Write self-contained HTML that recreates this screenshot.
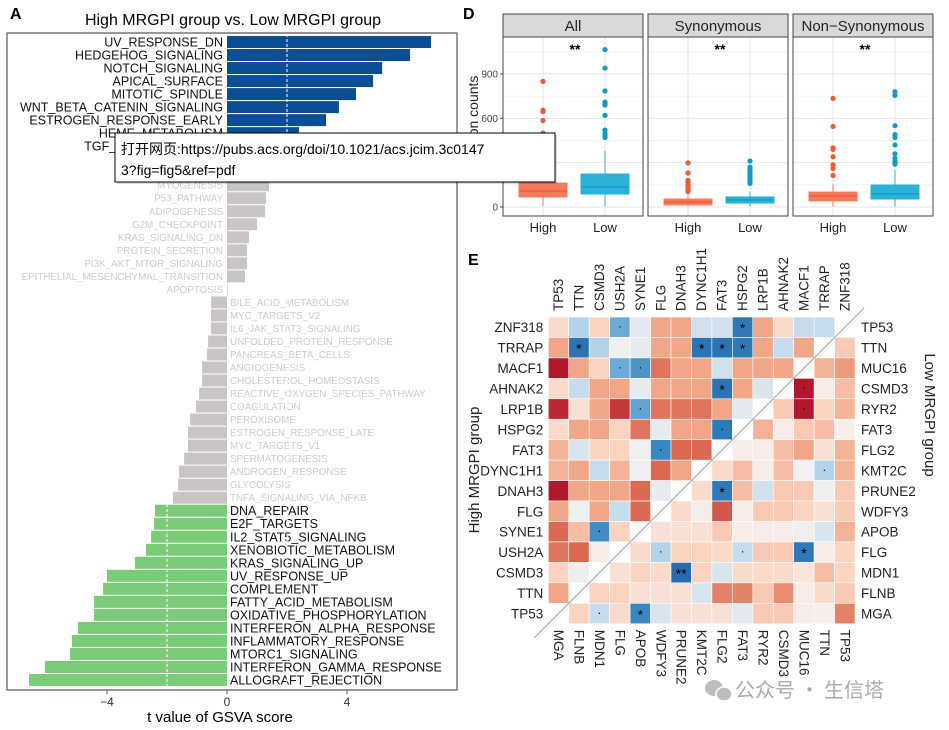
<!DOCTYPE html>
<html><head><meta charset="utf-8">
<style>
html,body{margin:0;padding:0;background:#fff;}
svg{display:block;font-family:"Liberation Sans","Noto Sans CJK SC",sans-serif;}
</style></head>
<body>
<svg id="fig" width="949" height="730" viewBox="0 0 949 730" xmlns="http://www.w3.org/2000/svg">
<rect width="949" height="730" fill="#fff"/>
<g id="panelA"></g>
<g id="panelD"></g>
<g id="panelE"></g>
<g>
  <ellipse cx="714" cy="688" rx="9" ry="8" fill="#bdbdbd"/>
  <ellipse cx="724" cy="694" rx="8" ry="7" fill="#bdbdbd" stroke="#fff" stroke-width="1.5"/>
  <text x="735" y="697" font-size="20" fill="#aaa" font-family="'Noto Sans CJK SC',sans-serif">公众号 · 生信塔</text>
</g>
<g>
  <rect x="117" y="135" width="440" height="49" fill="#000" opacity="0.15"/>
  <rect x="115" y="133" width="440" height="49" fill="#fff" stroke="#000" stroke-width="1"/>
  <text x="121" y="154" font-size="14" fill="#000" font-family="'Liberation Sans','Noto Sans CJK SC',sans-serif">打开网页:https://pubs.acs.org/doi/10.1021/acs.jcim.3c0147</text>
  <text x="121" y="175" font-size="14" fill="#000">3?fig=fig5&amp;ref=pdf</text>
</g>
</svg>
<script>
const NS="http://www.w3.org/2000/svg";
function mk(parent,tag,attrs,txt){const e=document.createElementNS(NS,tag);for(const k in attrs)e.setAttribute(k,attrs[k]);if(txt!==undefined)e.textContent=txt;parent.appendChild(e);return e;}

/* ---------- Panel A data ---------- */
const pathways=["UV_RESPONSE_DN","HEDGEHOG_SIGNALING","NOTCH_SIGNALING","APICAL_SURFACE","MITOTIC_SPINDLE","WNT_BETA_CATENIN_SIGNALING","ESTROGEN_RESPONSE_EARLY","HEME_METABOLISM","TGF_BETA_SIGNALING","APICAL_JUNCTION","HYPOXIA","MYOGENESIS","P53_PATHWAY","ADIPOGENESIS","G2M_CHECKPOINT","KRAS_SIGNALING_DN","PROTEIN_SECRETION","PI3K_AKT_MTOR_SIGNALING","EPITHELIAL_MESENCHYMAL_TRANSITION","APOPTOSIS","BILE_ACID_METABOLISM","MYC_TARGETS_V2","IL6_JAK_STAT3_SIGNALING","UNFOLDED_PROTEIN_RESPONSE","PANCREAS_BETA_CELLS","ANGIOGENESIS","CHOLESTEROL_HOMEOSTASIS","REACTIVE_OXYGEN_SPECIES_PATHWAY","COAGULATION","PEROXISOME","ESTROGEN_RESPONSE_LATE","MYC_TARGETS_V1","SPERMATOGENESIS","ANDROGEN_RESPONSE","GLYCOLYSIS","TNFA_SIGNALING_VIA_NFKB","DNA_REPAIR","E2F_TARGETS","IL2_STAT5_SIGNALING","XENOBIOTIC_METABOLISM","KRAS_SIGNALING_UP","UV_RESPONSE_UP","COMPLEMENT","FATTY_ACID_METABOLISM","OXIDATIVE_PHOSPHORYLATION","INTERFERON_ALPHA_RESPONSE","INFLAMMATORY_RESPONSE","MTORC1_SIGNALING","INTERFERON_GAMMA_RESPONSE","ALLOGRAFT_REJECTION"];
const tValues=[6.8,6.1,5.17,4.87,4.3,3.73,3.3,2.4,2.1,1.9,1.6,1.4,1.3,1.27,1.0,0.73,0.67,0.67,0.6,0.02,-0.53,-0.53,-0.53,-0.63,-0.67,-0.83,-0.83,-0.93,-1.03,-1.23,-1.3,-1.3,-1.43,-1.6,-1.63,-1.8,-2.4,-2.43,-2.53,-2.7,-3.07,-4.0,-4.13,-4.43,-4.43,-4.97,-5.17,-5.23,-6.07,-6.6];
const xTicksA=[-4,0,4];
const thresholdA=2;

(function(){
 const g=document.getElementById('panelA');
 const x=v=>227+v*30, y0=42, step=13.02;
 const t=mk(g,'text',{x:10,y:19,'font-size':16,'font-weight':'bold'},'A');
 
 const ti=mk(g,'text',{x:233,y:25,'font-size':16,'text-anchor':'middle'},'High MRGPI group vs. Low MRGPI group');
 
 pathways.forEach((p,i)=>{
  const v=tValues[i], yc=y0+i*step;
  const col=v>=thresholdA?'#0b4e93':(v<=-thresholdA?'#7ccb78':'#c9c5c5');
  const r=mk(g,'rect',{x:Math.min(x(0),x(v)),y:yc-6,width:Math.abs(x(v)-x(0)),height:12,fill:col});
  
  
  const sig=Math.abs(v)>=thresholdA;
  const lb=mk(g,'text',{x:v>=0?x(0)-4:x(0)+3,y:yc+(sig?4.5:3.5),'font-size':sig?12.5:9.8,'text-anchor':v>=0?'end':'start',fill:sig?'#111':'#cbcbcb'},p);
  
  
 });
 [thresholdA,-thresholdA].forEach(v=>{
  const l=mk(g,'line',{x1:x(v),x2:x(v),y1:34,y2:689,stroke:'#fff','stroke-width':1,'stroke-dasharray':'3,2'});
  
 });
 const fr=mk(g,'rect',{x:7,y:33,width:450,height:657,fill:'none',stroke:'#555','stroke-width':1.2});
 
 xTicksA.forEach(v=>{
  mk(g,'line',{x1:x(v),x2:x(v),y1:690,y2:694,stroke:'#555'});
  const tl=mk(g,'text',{x:x(v),y:706,'font-size':12,'text-anchor':'middle',fill:'#333'},v<0?'−'+Math.abs(v):String(v));
  
 });
 const xt=mk(g,'text',{x:220,y:722,'font-size':15,'text-anchor':'middle'},'t value of GSVA score');
 
})();

/* ---------- Panel D data ---------- */
const facets=["All","Synonymous","Non−Synonymous"];
const groups=["High","Low"];
// [min whisker, q1, median, q3, max whisker]
const boxHigh=[[5,68,108,162,300],[2,14,34,54,100],[3,41,74,101,155]];
const boxLow=[[3,88,135,223,380],[2,27,47,68,105],[3,54,88,149,250]];
const outHigh=[[850,655,645,585,500,470,440],[298,230,180,165,150,140,130,120,115,110,105],[735,545,400,390,340,285,260,213]];
const outLow=[[1065,940,785,710,700,690,620,520,500,485,470],[311,270,255,240,230,220,210,200,190,180,170,165,160],[780,755,550,490,470,420,360,330,310,300,290]];
const yTicksD=[0,300,600,900];
const sigD=["**","**","**"];

(function(){
 const g=document.getElementById('panelD');
 const y=v=>207-v*0.1478;
 const fx=[503,648,793], fw=140;
 const t=mk(g,'text',{x:463,y:19,'font-size':16,'font-weight':'bold'},'D');
 
 const yl=mk(g,'text',{x:0,y:0,'font-size':14,'text-anchor':'middle',fill:'#222',transform:'translate(478,125) rotate(-90)'},'Mutation counts');
 
 yTicksD.forEach(v=>{
  const tl=mk(g,'text',{x:498,y:y(v)+3.5,'font-size':10,'text-anchor':'end',fill:'#444'},String(v));
  
  mk(g,'line',{x1:500,x2:503,y1:y(v),y2:y(v),stroke:'#444'});
 });
 facets.forEach((f,k)=>{
  const x0=fx[k];
  const st=mk(g,'rect',{x:x0,y:14,width:fw,height:23,fill:'#d9d9d9',stroke:'#444','stroke-width':1});
  
  const sl=mk(g,'text',{x:x0+fw/2,y:31,'font-size':15,'text-anchor':'middle',fill:'#222'},f);
  
  mk(g,'rect',{x:x0,y:37,width:fw,height:179,fill:'#fff'});
  [150,450,750,1050].forEach(v=>mk(g,'line',{x1:x0,x2:x0+fw,y1:y(v),y2:y(v),stroke:'#f0f0f0','stroke-width':0.8}));
  yTicksD.forEach(v=>mk(g,'line',{x1:x0,x2:x0+fw,y1:y(v),y2:y(v),stroke:'#e6e6e6','stroke-width':1}));
  const cx=[x0+40,x0+102];
  cx.forEach(c=>mk(g,'line',{x1:c,x2:c,y1:37,y2:216,stroke:'#e6e6e6'}));
  [[boxHigh[k],outHigh[k],'#f47a5c','#ef5a3a'],[boxLow[k],outLow[k],'#2bb2d6','#0f9cc8']].forEach((d,j)=>{
   const b=d[0],c=cx[j];
   mk(g,'line',{x1:c,x2:c,y1:y(b[0]),y2:y(b[4]),stroke:d[2],'stroke-width':1});
   const bx=mk(g,'rect',{x:c-24,y:y(b[3]),width:48,height:y(b[1])-y(b[3]),fill:d[2],stroke:d[2]});
   
   
   mk(g,'line',{x1:c-24,x2:c+24,y1:y(b[2]),y2:y(b[2]),stroke:d[3],'stroke-width':1.5});
   d[1].forEach(v=>{
    const p=mk(g,'circle',{cx:c,cy:y(v),r:2.6,fill:d[3]});
    
    
   });
   const xl=mk(g,'text',{x:c,y:232,'font-size':13,'text-anchor':'middle',fill:'#222'},groups[j]);
   
  });
  const s=mk(g,'text',{x:x0+72,y:54,'font-size':14,'text-anchor':'middle','font-weight':'bold'},sigD[k]);
  
  mk(g,'rect',{x:x0,y:37,width:fw,height:179,fill:'none',stroke:'#444','stroke-width':1});
 });
})();

/* ---------- Panel E data ---------- */
const rowGenes=["ZNF318","TRRAP","MACF1","AHNAK2","LRP1B","HSPG2","FAT3","DYNC1H1","DNAH3","FLG","SYNE1","USH2A","CSMD3","TTN","TP53"];
const topGenes=["TP53","TTN","CSMD3","USH2A","SYNE1","FLG","DNAH3","DYNC1H1","FAT3","HSPG2","LRP1B","AHNAK2","MACF1","TRRAP","ZNF318"];
const rightGenes=["TP53","TTN","MUC16","CSMD3","RYR2","FAT3","FLG2","KMT2C","PRUNE2","WDFY3","APOB","FLG","MDN1","FLNB","MGA"];
const bottomGenes=["MGA","FLNB","MDN1","FLG","APOB","WDFY3","PRUNE2","KMT2C","FLG2","FAT3","RYR2","CSMD3","MUC16","TTN","TP53"];
const cellValues=[
[.2,-.3,.25,-.5,-.1,.45,.45,-.2,-.2,-.85,.45,.2,-.25,-.25,null],
[.45,-.9,-.3,-.03,-.08,.45,.45,-.9,-.9,-.85,.45,-.25,.45,null,.3],
[.95,.45,.25,-.5,-.65,.65,.45,.45,-.2,.45,.45,.45,null,.4,.5],
[.2,-.25,.45,.45,-.08,.45,.45,.45,-.9,.45,-.15,null,.95,.05,.35],
[.9,.15,.45,.85,-.55,.65,.65,.65,.45,-.1,null,.3,.95,.25,.4],
[.2,.45,.45,.25,.65,-.08,.45,.45,-.85,null,.4,.05,.3,.35,.03],
[.4,-.15,.25,.25,-.03,-.75,.7,.7,null,.05,.05,.35,.45,.15,.4],
[.4,.45,-.25,.4,-.03,.7,.45,null,.2,.35,.05,.35,-.02,-.3,.4],
[.95,.45,.45,.45,.7,-.08,null,.2,-.85,.35,-.2,.3,.3,-.03,.3],
[.45,-.03,.45,-.25,.7,null,.2,.05,.75,.05,.3,.3,.25,.15,.3],
[.7,.35,-.7,.25,null,.15,.15,.15,.3,.05,.05,.05,-.03,-.15,.4],
[.65,.7,.05,null,.2,-.3,.25,.25,.2,-.25,.3,.3,-.85,.05,.25],
[.25,-.05,null,.15,.25,.2,-.95,.25,-.15,.2,.2,.2,.1,.35,.25],
[.45,null,.25,.25,.15,.15,.15,-.15,.6,.6,.3,.55,.05,.2,.3],
[null,.25,-.25,.2,-.75,-.15,.15,.15,.15,-.1,.3,.3,.05,.03,.6]];
const cellMarks=[
["","","","·","","","","","","*","","","","",""],
["","*","","","","","","*","*","*","","","","",""],
["","","","·","·","","","","","","","","","",""],
["","","","","","","","","*","","","","·","",""],
["","","","","·","","","","","","","","·","",""],
["","","","","","","","","·","","","","","",""],
["","","","","","·","","","","","","","","",""],
["","","","","","","","","","","","","","·",""],
["","","","","","","","","*","","","","","",""],
["","","","","","","","","","","","","","",""],
["","","·","","","","","","","","","","","",""],
["","","","","","·","","","","·","","","*","",""],
["","","","","","","**","","","","","","","",""],
["","","","","","","","","","","","","","",""],
["","","·","","*","","","","","","","","","",""]];

(function(){
 const g=document.getElementById('panelE');
 const gx=548.3,gy=317,cw=20.45,ch=20.45;
 const t=mk(g,'text',{x:468,y:265,'font-size':16,'font-weight':'bold'},'E');
 
 const stops=[[-1,[33,102,172]],[-0.75,[55,135,192]],[-0.5,[110,170,214]],[-0.25,[198,220,236]],[0,[246,242,240]],[0.25,[251,212,193]],[0.45,[241,166,135]],[0.7,[220,104,82]],[0.95,[178,24,43]]];
 function color(v){
  if(v<=stops[0][0])return 'rgb('+stops[0][1]+')';
  for(let i=1;i<stops.length;i++){if(v<=stops[i][0]){const a=stops[i-1],b=stops[i],f=(v-a[0])/(b[0]-a[0]);return 'rgb('+a[1].map((c,j)=>Math.round(c+(b[1][j]-c)*f)).join(',')+')';}}
  return 'rgb('+stops[stops.length-1][1]+')';
 }
 cellValues.forEach((row,i)=>row.forEach((v,j)=>{
  if(v===null)return;
  const r=mk(g,'rect',{x:gx+j*cw,y:gy+i*ch,width:cw,height:ch,fill:color(v),stroke:'#fff','stroke-width':0.6});
  
  
  const m=cellMarks[i][j];
  if(m){
   const tx=mk(g,'text',{x:gx+j*cw+cw/2,y:gy+i*ch+ch/2+(m==='·'?3:6),'font-size':m==='·'?12:14,'text-anchor':'middle',fill:'#000'},m);
   
   
  }
 }));
 const n=rowGenes.length;
 const dl=mk(g,'line',{x1:gx-14,y1:gy+n*ch+14,x2:gx+n*cw+9,y2:gy-9,stroke:'#aaa','stroke-width':1.2});
 
 rowGenes.forEach((s,i)=>{const e=mk(g,'text',{x:gx-5,y:gy+i*ch+ch/2+5,'font-size':13.5,'text-anchor':'end',fill:'#222'},s);});
 rightGenes.forEach((s,i)=>{const e=mk(g,'text',{x:gx+n*cw+6,y:gy+i*ch+ch/2+5,'font-size':13.5,fill:'#222'},s);});
 topGenes.forEach((s,j)=>{const cx=gx+j*cw+cw/2+4.5;const e=mk(g,'text',{x:0,y:0,'font-size':13.5,fill:'#222',transform:'translate('+cx+','+(gy-6)+') rotate(-90)'},s);});
 bottomGenes.forEach((s,j)=>{const cx=gx+j*cw+cw/2-4.5;const e=mk(g,'text',{x:0,y:0,'font-size':13.5,fill:'#222',transform:'translate('+cx+','+(gy+n*ch+6)+') rotate(90)'},s);});
 const h=mk(g,'text',{x:0,y:0,'font-size':15,'text-anchor':'middle',fill:'#222',transform:'translate(479,470) rotate(-90)'},'High MRGPI group');
 
 const l=mk(g,'text',{x:0,y:0,'font-size':15,'text-anchor':'middle',fill:'#222',transform:'translate(925,415) rotate(90)'},'Low MRGPI group');
 
})();
</script>
</body></html>
